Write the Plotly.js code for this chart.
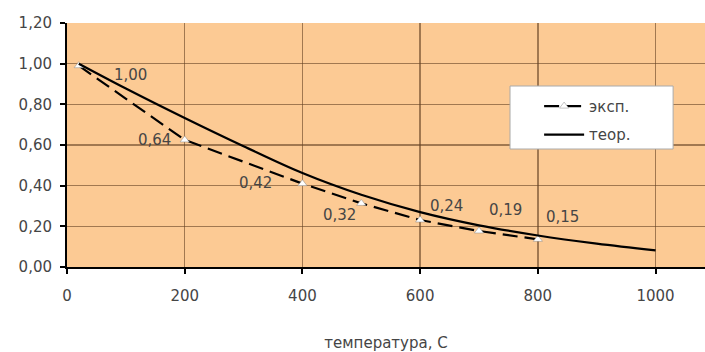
<!DOCTYPE html>
<html>
<head>
<meta charset="utf-8">
<script src="https://cdn.plot.ly/plotly-3.0.1.min.js"></script>
<style>html,body{margin:0;padding:0;background:#fff}#chart{width:705px;height:352px}</style>
</head>
<body>
<div id="chart"></div>
<script>
// Experimental data
const expT = [20, 200, 400, 500, 600, 700, 800];
const expVal = [0.99, 0.625, 0.41, 0.313, 0.231, 0.177, 0.136];
const expLabels = ["1,00", "0,64", "0,42", "0,32", "0,24", "0,19", "0,15"];
// Theoretical curve
const theoT = [20, 100, 200, 300, 400, 500, 600, 700, 800, 900, 1000];
const theoVal = [1.00, 0.878, 0.733, 0.594, 0.462, 0.355, 0.27, 0.205, 0.155, 0.115, 0.082];
const xTicks = [0, 200, 400, 600, 800, 1000];
const yTicks = [0, 0.2, 0.4, 0.6, 0.8, 1.0, 1.2];
const seriesNames = ["эксп.", "теор."];
const xTitle = "температура, С";

// label offsets (px) for the data labels
const labelShift = [[52, -9], [-30, 0], [-47, 1], [-22, -12], [26, 14], [27, 21], [25, 22]];

const txtColor = "#454545";
const font = {family: "DejaVu Sans, sans-serif", size: 15, color: txtColor};

const traces = [
  {
    x: expT, y: expVal, name: seriesNames[0], type: "scatter", mode: "lines+markers",
    line: {color: "#000", width: 2.2, dash: "15px,7px"},
    marker: {symbol: "triangle-up", size: 8, color: "#fff", line: {color: "#888", width: 0.5}},
    legendgroup: "a"
  },
  {
    x: theoT, y: theoVal, name: seriesNames[1], type: "scatter", mode: "lines",
    line: {color: "#000", width: 2.2, shape: "spline", smoothing: 1},
    legendgroup: "b"
  }
];

const annotations = expT.map((t, i) => ({
  x: t, y: expVal[i], xref: "x", yref: "y", text: expLabels[i], showarrow: false,
  xshift: labelShift[i][0], yshift: labelShift[i][1], font: font
}));

const layout = {
  width: 705, height: 352,
  margin: {l: 67, r: 0, t: 23, b: 85},
  paper_bgcolor: "#fff",
  plot_bgcolor: "#FCCA94",
  separators: ", ",
  font: font,
  showlegend: true,
  legend: {
    x: 0.740, y: 0.726, xanchor: "left", yanchor: "top",
    bgcolor: "rgba(0,0,0,0)", borderwidth: 0,
    font: font, tracegroupgap: 6, traceorder: "grouped",
    itemwidth: 40
  },
  shapes: [{
    type: "rect", xref: "paper", yref: "paper",
    x0: 0.6944, x1: 0.950, y0: 0.4836, y1: 0.7418,
    fillcolor: "#fff", line: {color: "#aaa", width: 1}, layer: "above"
  }],
  xaxis: {
    range: [0, 1084], tickvals: xTicks, ticktext: xTicks.map(String),
    showgrid: true, gridcolor: "rgba(100,65,35,0.6)", gridwidth: 1.5,
    showline: true, linecolor: "#000", linewidth: 2,
    ticks: "outside", ticklen: 5, tickwidth: 2, tickcolor: "#000",
    ticklabelstandoff: 9, zeroline: false,
    tickfont: font,
    title: {text: xTitle, font: font, standoff: 35}
  },
  yaxis: {
    range: [0, 1.2], tickvals: yTicks, tickformat: ".2f",
    showgrid: true, gridcolor: "rgba(100,65,35,0.6)", gridwidth: 1.5,
    showline: true, linecolor: "#000", linewidth: 2,
    ticks: "outside", ticklen: 5, tickwidth: 2, tickcolor: "#000",
    ticklabelstandoff: 5, zeroline: false,
    tickfont: font
  },
  annotations: annotations
};

Plotly.newPlot("chart", traces, layout, {displayModeBar: false, staticPlot: true});
</script>
</body>
</html>
